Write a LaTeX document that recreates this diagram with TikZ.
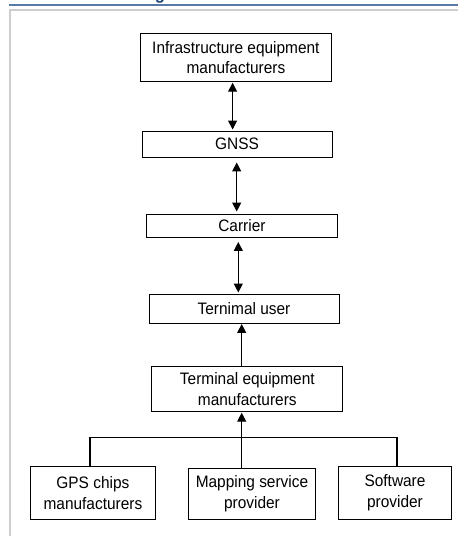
\documentclass[tikz,border=0pt]{standalone}
\usepackage{fontspec}
\setmainfont{Liberation Sans}[FakeStretch=0.93]
\usetikzlibrary{arrows.meta}
\definecolor{barblue}{RGB}{88,122,168}
\definecolor{headblue}{RGB}{31,73,125}
\definecolor{framegray}{RGB}{205,205,205}
\tikzset{
  box/.style={draw=black, line width=0.95pt, rectangle, inner sep=0pt,
    align=center, font=\fontsize{16.6}{20.5}\selectfont},
  link/.style={draw=black, line width=1.1pt},
  dbl/.style={link, {Triangle[width=9pt,length=9pt]}-{Triangle[width=9pt,length=9pt]}},
  up/.style={link, -{Triangle[width=9pt,length=9pt]}},
}
\begin{document}
\begin{tikzpicture}[x=1pt, y=-1pt]
\useasboundingbox (0,0) rectangle (458,536);
\clip (0,0) rectangle (458,536);
\fill[white] (0,0) rectangle (458,536);

% page header rule, the tail of the heading above it, and the panel frame
\node[anchor=base, text=headblue, inner sep=0pt,
  font=\bfseries\fontsize{18}{18}\selectfont] (head) at (160,-0.8) {g};
\fill[barblue] (9,3.5) rectangle (458,5.6);
\draw[framegray, line width=1.6pt] (9.8,536) -- (9.8,9.8) -- (458,9.8);

% boxes
\node[box, minimum width=190.3pt, minimum height=48.7pt] (infra) at (235.9,57.4)
  {Infrastructure equipment\\manufacturers};
\node[box, minimum width=190pt, minimum height=26pt] (gnss) at (237,144) {GNSS};
\node[box, minimum width=190.3pt, minimum height=23pt] (carrier) at (241.9,225.5) {Carrier};
\node[box, minimum width=190pt, minimum height=29pt] (tuser) at (244,308.5) {Ternimal user};
\node[box, minimum width=191.3pt, minimum height=45pt] (teq) at (247.3,389.2)
  {Terminal equipment\\manufacturers};
\node[box, minimum width=124.3pt, minimum height=52.3pt] (gps) at (92.9,492.9)
  {GPS chips\\manufacturers};
\node[box, minimum width=127.4pt, minimum height=51pt] (map) at (252,493.8)
  {Mapping service\\provider};
\node[box, minimum width=113.4pt, minimum height=52.3pt] (sw) at (395,492.9)
  {Software\\provider};

% connector columns
\coordinate (c1) at (232.6,0);
\coordinate (c2) at (236.7,0);
\coordinate (c3) at (238.3,0);
\coordinate (c4) at (241.7,0);
\coordinate (busL) at (90,437.7);
\coordinate (busR) at (397,437.7);

% connectors
\draw[dbl, shorten <=0.5pt, shorten >=1pt] (infra.south -| c1) -- (gnss.north -| c1);
\draw[dbl, shorten <=5pt, shorten >=2pt] (gnss.south -| c2) -- (carrier.north -| c2);
\draw[dbl, shorten <=4.5pt, shorten >=1pt] (carrier.south -| c3) -- (tuser.north -| c3);
\draw[up, shorten >=0.5pt] (teq.north -| c4) -- (tuser.south -| c4);
\draw[up, shorten >=0.5pt] (map.north -| c4) -- (teq.south -| c4);
\draw[link] (gps.north -| busL) -- (busL) -- (busR) -- (sw.north -| busR);
\end{tikzpicture}
\end{document}
